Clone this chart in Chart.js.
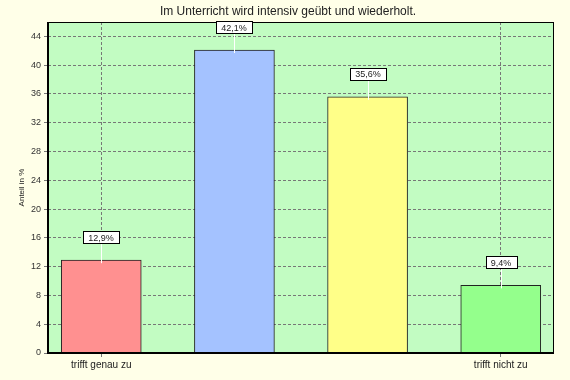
<!DOCTYPE html>
<html><head><meta charset="utf-8">
<script src="https://cdn.jsdelivr.net/npm/chart.js@4"></script>
<style>html,body{margin:0;padding:0;background:#FFFFE8;}#c{display:block;}</style>
</head><body>
<canvas id="c" width="570" height="380"></canvas>
<script>
const title = "Im Unterricht wird intensiv geübt und wiederholt.";
const categories = ["trifft genau zu", "", "", "trifft nicht zu"];
const values = [12.9, 42.1, 35.6, 9.4];
const valueLabels = ["12,9%", "42,1%", "35,6%", "9,4%"];
const barColors = ["#FF9090", "#A4C2FF", "#FFFF88", "#94FF8C"];
const yTicks = [0,4,8,12,16,20,24,28,32,36,40,44];
const yTitle = "Anteil in %";
const FONT = "'Liberation Sans', Arial, sans-serif";

const decor = {
  id: 'decor',
  beforeDraw(chart) {
    const {ctx, chartArea: a} = chart;
    ctx.save();
    ctx.fillStyle = '#C2FCC2';
    ctx.fillRect(a.left, a.top, a.right - a.left, a.bottom - a.top);
    ctx.restore();
  },
  afterDraw(chart) {
    const {ctx, chartArea: a} = chart;
    ctx.save();
    ctx.strokeStyle = '#000';
    ctx.lineWidth = 1;
    ctx.strokeRect(a.left + 0.5, a.top + 0.5, a.right - a.left - 1, a.bottom - a.top);
    ctx.lineWidth = 2;
    ctx.beginPath();
    ctx.moveTo(a.left, a.top); ctx.lineTo(a.left, a.bottom); ctx.lineTo(a.right, a.bottom);
    ctx.stroke();
    ctx.fillStyle = '#222';
    ctx.font = '12px ' + FONT;
    ctx.textAlign = 'center';
    ctx.textBaseline = 'middle';
    ctx.fillText(title, 288, 12);
    ctx.save();
    ctx.translate(22, (a.top + a.bottom) / 2);
    ctx.rotate(-Math.PI / 2);
    ctx.font = '8px ' + FONT;
    ctx.fillText(yTitle, 0, 0);
    ctx.restore();
    const meta = chart.getDatasetMeta(0);
    ctx.font = '9px ' + FONT;
    meta.data.forEach((bar, i) => {
      const x = Math.round(bar.x);
      const top = bar.y;
      const cy = top - 23;
      const w = ctx.measureText(valueLabels[i]).width + 10;
      const h = 12;
      ctx.strokeStyle = '#fff';
      ctx.lineWidth = 1;
      ctx.beginPath();
      ctx.moveTo(x + 0.5, cy + h / 2); ctx.lineTo(x + 0.5, top + 3);
      ctx.stroke();
      ctx.fillStyle = '#fff';
      ctx.fillRect(Math.round(x - w / 2) + 0.5, Math.round(cy - h / 2) + 0.5, Math.round(w), h);
      ctx.strokeStyle = '#000';
      ctx.strokeRect(Math.round(x - w / 2) + 0.5, Math.round(cy - h / 2) + 0.5, Math.round(w), h);
      ctx.fillStyle = '#222';
      ctx.textAlign = 'center';
      ctx.textBaseline = 'middle';
      ctx.fillText(valueLabels[i], x, cy + 1);
    });
    ctx.restore();
  }
};

new Chart(document.getElementById('c'), {
  type: 'bar',
  data: {
    datasets: [{
      data: values.map((v, i) => ({x: i, y: v})),
      backgroundColor: barColors,
      borderColor: '#222',
      borderWidth: 1,
      barThickness: 80
    }]
  },
  options: {
    responsive: false,
    animation: false,
    events: [],
    layout: {padding: {left: 0, right: 16, top: 22, bottom: 0}},
    plugins: {legend: {display: false}, tooltip: {enabled: false}},
    scales: {
      x: {
        type: 'linear', min: -0.4, max: 3.4, offset: false,
        afterBuildTicks: s => { s.ticks = [{value: 0}, {value: 3}]; },
        afterFit: s => { s.height = 27; },
        border: {display: false, dash: [3, 2]},
        grid: {color: '#777', lineWidth: 1, offset: false, tickLength: 4, drawTicks: true},
        ticks: {
          font: {family: FONT, size: 10}, color: '#222', padding: 2, autoSkip: false,
          maxRotation: 0,
          callback: v => categories[v]
        }
      },
      y: {
        min: 0, max: 46,
        afterBuildTicks: s => { s.ticks = yTicks.map(v => ({value: v})); },
        afterFit: s => { s.width = 48; },
        border: {display: false, dash: [3, 2]},
        grid: {color: '#777', lineWidth: 1, tickLength: 4},
        ticks: {font: {family: FONT, size: 9}, color: '#333', padding: 3}
      }
    }
  },
  plugins: [decor]
});
</script>
</body></html>
